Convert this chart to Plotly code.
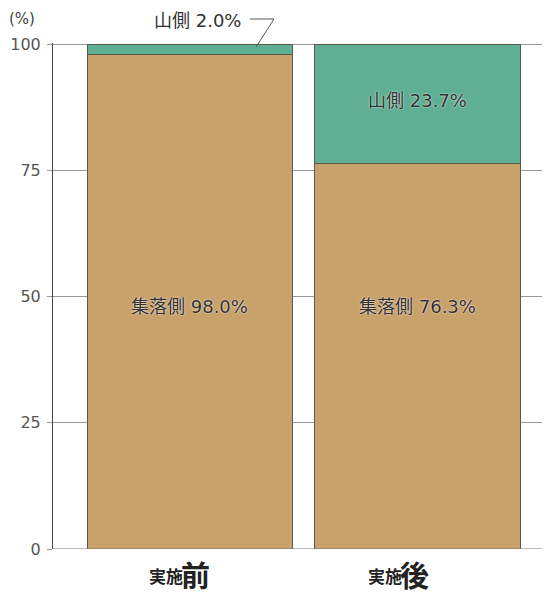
import plotly.graph_objects as go

categories = ["実施前", "実施後"]
shuraku = [98.0, 76.3]
yama = [2.0, 23.7]
shuraku_name = "集落側"
yama_name = "山側"
tick_vals = [0, 25, 50, 75, 100]

TAN = "#C9A16B"
TEAL = "#5FAF95"
EDGE = "#5a5a4a"
FONT = "DejaVu Sans, Noto Sans CJK JP"

x_idx = list(range(len(categories)))

OFF = 8  # page body margin
W, H = 550 - OFF, 594 - OFF
L, R, T, B = 53 - OFF, 0, 43 - OFF, 594 - 549
PW, PH = W - L - R, H - T - B

def px2paper(px, py):
    # px, py: screenshot pixel coordinates
    return (px - OFF - L) / PW, (H - B - (py - OFF)) / PH

fig = go.Figure()
fig.add_trace(go.Bar(x=x_idx, y=shuraku, marker=dict(color=TAN, line=dict(color=EDGE, width=1)),
                     hoverinfo="skip"))
fig.add_trace(go.Bar(x=x_idx, y=yama, marker=dict(color=TEAL, line=dict(color=EDGE, width=1)),
                     hoverinfo="skip"))

shadow = "0px 0px 2px white"
lab_font = dict(family=FONT, size=18, color="#333", shadow=shadow)
ann = []
for i, v in enumerate(shuraku):
    ann.append(dict(x=i, y=48, xref="x", yref="y", text=f"{shuraku_name} {v:.1f}%", showarrow=False,
                    font=lab_font))
for i, v in enumerate(yama):
    if v >= 10:
        ann.append(dict(x=i, y=shuraku[i] + v / 2 + 0.6, xref="x", yref="y",
                        text=f"{yama_name} {v:.1f}%", showarrow=False, font=lab_font))
    else:
        ax, ay = px2paper(197, 20)
        ann.append(dict(x=ax, y=ay, xref="paper", yref="paper", xanchor="center", yanchor="middle",
                        text=f"{yama_name} {v:.1f}%",
                        showarrow=False, font=dict(family=FONT, size=18, color="#333")))

# x category labels: small prefix + large final character, split at these pixel positions
label_split_px = [182, 401]
for i, c in enumerate(categories):
    sx, sy = px2paper(label_split_px[i] + 2, 575)
    lx, ly = px2paper(label_split_px[i] - 2, 574)
    ann.append(dict(x=sx, y=sy, xref="paper", yref="paper", xanchor="right", yanchor="middle",
                    text=f"<b>{c[:2]}</b>", showarrow=False, borderpad=0,
                    font=dict(family="Noto Sans CJK JP", size=17, color="#222")))
    ann.append(dict(x=lx, y=ly, xref="paper", yref="paper", xanchor="left", yanchor="middle",
                    text=f"<b>{c[2:]}</b>", showarrow=False, borderpad=0,
                    font=dict(family="Noto Sans CJK JP", size=29, color="#222")))

px_, py_ = px2paper(22, 19)
ann.append(dict(x=px_, y=py_, xref="paper", yref="paper", xanchor="center", yanchor="middle",
                text="(%)", showarrow=False,
                font=dict(family=FONT, size=15, color="#444")))

x0, y0 = px2paper(250, 19)
x1, y1 = px2paper(274, 19)
x2, y2 = px2paper(256, 47)
shapes = [
    dict(type="path", xref="paper", yref="paper",
         path=f"M {x0} {y0} L {x1} {y1} L {x2} {y2}",
         line=dict(color="#555", width=1)),
]

fig.update_layout(
    barmode="stack",
    bargap=0.095,
    width=W, height=H,
    margin=dict(l=L, r=R, t=T, b=B, autoexpand=False),
    paper_bgcolor="white", plot_bgcolor="white",
    showlegend=False,
    annotations=ann,
    shapes=shapes,
    font=dict(family=FONT, color="#444"),
    xaxis=dict(range=[-0.602, 1.582], showticklabels=False, showgrid=False, zeroline=False,
               showline=False, ticks="", automargin=False),
    yaxis=dict(range=[0, 100.2], tickvals=tick_vals, showgrid=True, gridcolor="#999", gridwidth=1,
               zeroline=False, showline=True, linecolor="#444", linewidth=1,
               ticks="outside", ticklen=5, tickcolor="#999", automargin=False,
               ticklabelstandoff=3,
               tickfont=dict(family=FONT, size=16, color="#555")),
)
fig.add_hline(y=0, line=dict(color="#777", width=1.2), layer="above")
fig.write_html("out.html")
